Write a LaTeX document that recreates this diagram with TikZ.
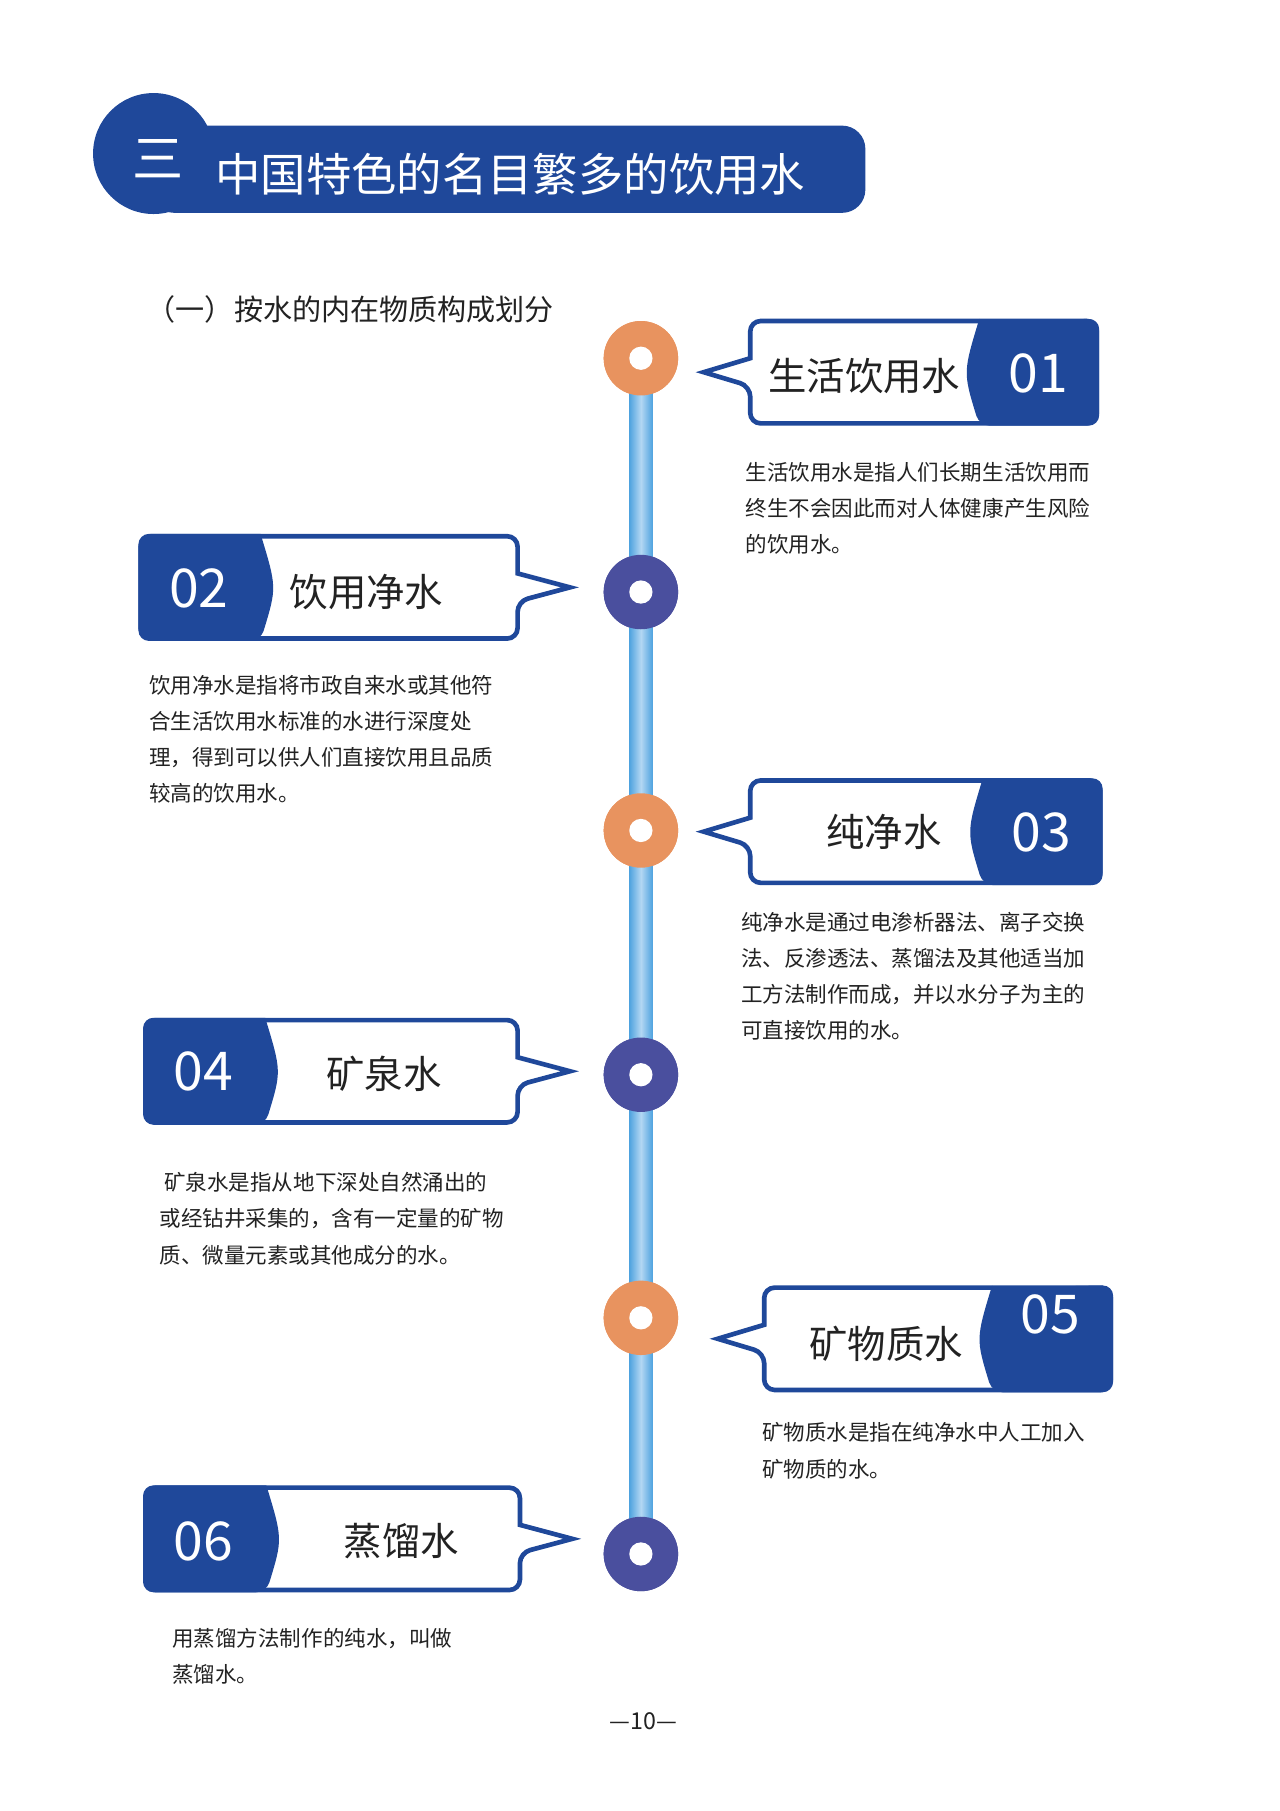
\documentclass[tikz,border=0pt]{standalone}
\usepackage{fontspec}
\setmainfont{Noto Sans CJK SC}
\usepackage{tikz}

\definecolor{navy}{HTML}{1F489A}
\definecolor{dotorange}{HTML}{E8935F}
\definecolor{dotpurple}{HTML}{4A4F9E}
\definecolor{barblue}{HTML}{4FA3DF}
\definecolor{barlight}{HTML}{B3D7F3}
\definecolor{inktext}{HTML}{222222}

\tikzset{
  boxline/.style={draw=navy, line width=4pt, fill=white, line join=miter},
  tabfill/.style={fill=navy},
  dot/.style={circle, minimum size=64pt, inner sep=0pt},
  hole/.style={circle, fill=white, minimum size=20pt, inner sep=0pt},
  label/.style={font=\fontsize{33}{36}\selectfont, text=inktext, inner sep=0pt},
  number/.style={font=\fontsize{46}{50}\selectfont, text=white, inner sep=0pt},
  desc/.style={font=\fontsize{18.5}{31}\selectfont, text=inktext, align=left, inner sep=0pt, anchor=north west}
}

% callout with tab on the right, pointer on the left
\newcommand{\calloutR}[6]{
  \draw[boxline] ({#1},{(#3+#4)/2-12}) [rounded corners=9] -- (#1,#3) -- (#2,#3)
    -- (#2,#4) -- (#1,#4) -- ({#1},{(#3+#4)/2+12}) [sharp corners] -- ({#6},{(#3+#4)/2}) -- cycle;
  \fill[tabfill, rounded corners=9] (#5,#3) -- (#2+2,#3-2) -- (#2+2,#4+2) -- (#5,#4+2)
    [sharp corners] .. controls ({#5-14},{(#3+#4)/2}) .. (#5,#3-2) -- cycle;
}
% callout with tab on the left, pointer on the right
\newcommand{\calloutL}[6]{
  \draw[boxline] ({#2},{(#3+#4)/2-12}) [rounded corners=9] -- (#2,#3) -- (#1,#3)
    -- (#1,#4) -- (#2,#4) -- ({#2},{(#3+#4)/2+12}) [sharp corners] -- ({#6},{(#3+#4)/2}) -- cycle;
  \fill[tabfill, rounded corners=9] (#5,#3-2) -- (#1-2,#3-2) -- (#1-2,#4+2) -- (#5,#4+2)
    [sharp corners] .. controls ({#5+14},{(#3+#4)/2}) .. (#5,#3-2) -- cycle;
}

\begin{document}
\begin{tikzpicture}[x=1pt, y=-1pt]
  \useasboundingbox (0,0) rectangle (1100,1557);

  % header
  \fill[navy] (132,132) circle (52);
  \fill[navy, rounded corners=20] (130,108) rectangle (744,183);
  \node[text=white, font=\fontsize{44}{48}\selectfont, inner sep=0pt] (sec) at (136,136) {三};
  \node[text=white, font=\fontsize{39}{44}\selectfont, inner sep=0pt, anchor=west] (title) at (185,150) {中国特色的名目繁多的饮用水};
  \node[text=inktext, font=\fontsize{25}{30}\selectfont, inner sep=0pt, anchor=west] (sub) at (126,266) {（一）按水的内在物质构成划分};

  % timeline
  \node[dot, fill=dotorange] (c1) at (551,308) {};
  \node[dot, fill=dotpurple] (c2) at (551,509) {};
  \node[dot, fill=dotorange] (c3) at (551,714) {};
  \node[dot, fill=dotpurple] (c4) at (551,924) {};
  \node[dot, fill=dotorange] (c5) at (551,1133) {};
  \node[dot, fill=dotpurple] (c6) at (551,1336) {};
  \shade[left color=barblue, right color=barblue, middle color=barlight]
    ([xshift=-10pt]c1.center) rectangle ([xshift=10pt]c6.center);
  \foreach \c/\col in {c1/dotorange, c2/dotpurple, c3/dotorange, c4/dotpurple, c5/dotorange, c6/dotpurple}{
    \fill[\col] (\c) circle (32);
    \node[hole] at (\c) {};
  }

  % callouts
  \calloutR{645}{943}{276}{364}{842}{605}
  \node[label] (t1) at (743,323) {生活饮用水};
  \node[number] (n1) at (893,321) {01};

  \calloutL{121}{445}{461}{549}{224}{490}
  \node[number] (n2) at (171,506) {02};
  \node[label] (t2) at (315,509) {饮用净水};

  \calloutR{645}{946}{671}{759}{845}{605}
  \node[label] (t3) at (760,715) {纯净水};
  \node[number] (n3) at (895,716) {03};

  \calloutL{125}{445}{877}{965}{228}{490}
  \node[number] (n4) at (175,921) {04};
  \node[label] (t4) at (330,923) {矿泉水};

  \calloutR{657}{955}{1107}{1195}{853}{617}
  \node[label] (t5) at (762,1155) {矿物质水};
  \node[number] (n5) at (903,1130) {05};

  \calloutL{125}{447}{1279}{1367}{229}{492}
  \node[number] (n6) at (175,1325) {06};
  \node[label] (t6) at (345,1325) {蒸馏水};

  % descriptions
  \node[desc] (d1) at (641,397) {生活饮用水是指人们长期生活饮用而\\终生不会因此而对人体健康产生风险\\的饮用水。};
  \node[desc] (d2) at (128,580) {饮用净水是指将市政自来水或其他符\\合生活饮用水标准的水进行深度处\\理，得到可以供人们直接饮用且品质\\较高的饮用水。};
  \node[desc] (d3) at (637,784) {纯净水是通过电渗析器法、离子交换\\法、反渗透法、蒸馏法及其他适当加\\工方法制作而成，并以水分子为主的\\可直接饮用的水。};
  \node[desc] (d4) at (137,1008) {\ 矿泉水是指从地下深处自然涌出的\\或经钻井采集的，含有一定量的矿物\\质、微量元素或其他成分的水。};
  \node[desc] (d5) at (655,1223) {矿物质水是指在纯净水中人工加入\\矿物质的水。};
  \node[desc] (d6) at (148,1400) {用蒸馏方法制作的纯水，叫做\\蒸馏水。};

  % page number
  \node[text=inktext, font=\fontsize{20}{24}\selectfont, inner sep=0pt] (page) at (553,1480) {—10—};
\end{tikzpicture}
\end{document}
